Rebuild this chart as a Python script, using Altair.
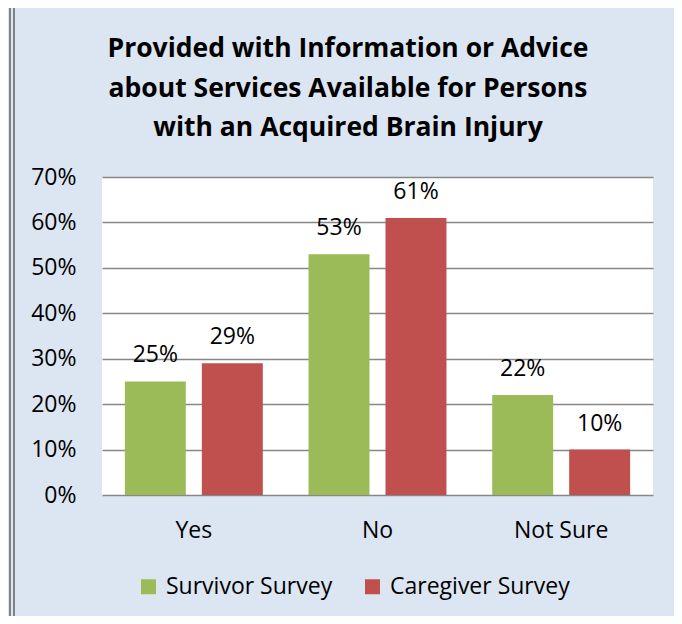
import altair as alt
import pandas as pd

categories = ["Yes", "No", "Not Sure"]
series = ["Survivor Survey", "Caregiver Survey"]
survivor = [0.25, 0.53, 0.22]
caregiver = [0.29, 0.61, 0.10]
colors = ["#9bbb59", "#c0504d"]
title_lines = ["Provided with Information or Advice",
               "about Services Available for Persons",
               "with an Acquired Brain Injury"]

rows = []
for i, c in enumerate(categories):
    rows.append({"cat": c, "series": series[0], "value": survivor[i]})
    rows.append({"cat": c, "series": series[1], "value": caregiver[i]})
df = pd.DataFrame(rows)

FONT = "Open Sans"
FS = 23

x = alt.X("cat:N", sort=categories, title=None,
          scale=alt.Scale(paddingInner=0, paddingOuter=0),
          axis=alt.Axis(labelAngle=0, domain=False, ticks=False, labelFontSize=FS,
                        labelBaseline="alphabetic", labelPadding=42,
                        labelColor="#000000", labelFont=FONT))
xoff = alt.XOffset("series:N", sort=series,
                   scale=alt.Scale(paddingInner=0.208, paddingOuter=0.297))
y = alt.Y("value:Q", title=None,
          scale=alt.Scale(domain=[0, 0.7], nice=False),
          axis=alt.Axis(format=".0%", values=[0, 0.1, 0.2, 0.3, 0.4, 0.5, 0.6, 0.7],
                        domain=False, ticks=False, grid=True, gridColor="#878787",
                        gridWidth=1.5, labelFontSize=FS, labelPadding=26,
                        labelColor="#000000", labelFont=FONT))
color = alt.Color("series:N", sort=series,
                  scale=alt.Scale(domain=series, range=colors),
                  legend=alt.Legend(title=None, orient="none", direction="horizontal",
                                    legendX=35, legendY=398, symbolType="square",
                                    symbolSize=225, symbolStrokeWidth=0,
                                    labelFontSize=FS, labelFont=FONT, labelColor="#000000",
                                    labelLimit=400,
                                    labelOffset=6, columnPadding=28, padding=0))

bars = alt.Chart(df).mark_bar().encode(x=x, xOffset=xoff, y=y, color=color)

labels = alt.Chart(df).mark_text(fontSize=FS, font=FONT, baseline="alphabetic",
                                 dy=-19, color="#000000").encode(
    x=x, xOffset=xoff, y=y, text=alt.Text("value:Q", format=".0%"))

title_df = pd.DataFrame({"t": ["\n".join(title_lines)]})
title = alt.Chart(title_df).mark_text(fontSize=26.5, font=FONT, fontWeight="bold",
                                      lineBreak="\n", lineHeight=39.5,
                                      baseline="alphabetic", align="center",
                                      color="#000000").encode(
    text="t:N", x=alt.value(246), y=alt.value(-120))

border_df = pd.DataFrame({"b": [0, 1]})
border = alt.Chart(border_df).mark_rule(color="#808080", strokeWidth=2).encode(
    x=alt.value(-92), y=alt.value(-169), y2=alt.value(439)
)
border2 = alt.Chart(border_df).mark_rule(color="#808080", strokeWidth=2).encode(
    x=alt.value(-88), y=alt.value(-169), y2=alt.value(439)
)

chart = alt.layer(bars, labels, title, border, border2).properties(
    width=551, height=318,
    autosize=alt.AutoSizeParams(type="none"),
    padding={"left": 94, "top": 169, "right": 21, "bottom": 121},
    background="#dce6f2",
).configure_view(fill="#ffffff", stroke=None)

chart.save("out.html", embed_options={"renderer": "svg", "actions": False})
